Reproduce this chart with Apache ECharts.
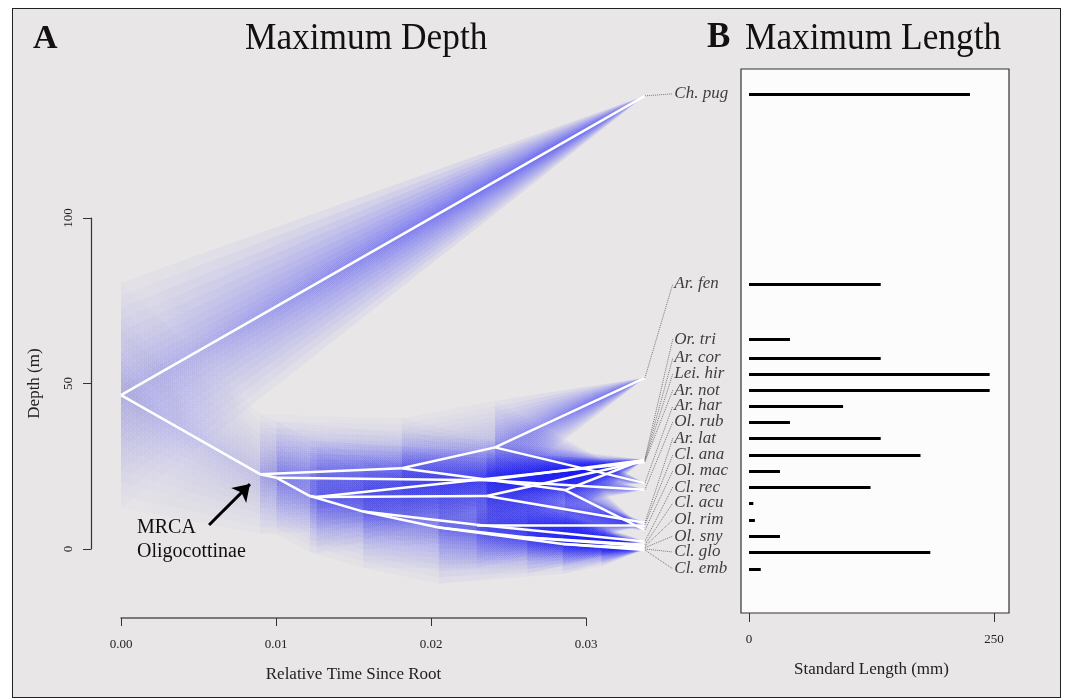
<!DOCTYPE html>
<html>
<head>
<meta charset="utf-8">
<script src="https://cdn.jsdelivr.net/npm/echarts@6/dist/echarts.min.js"></script>
<style>
  html, body { margin: 0; padding: 0; background: #fff; }
  #frame { position: absolute; left: 12px; top: 8px; width: 1047px; height: 688px; background: #e8e6e7; border: 1.5px solid #222; }
  #chart { position: absolute; left: 0; top: 0; width: 1065px; height: 700px; }
</style>
</head>
<body>
<div id="frame"></div>
<div id="chart"></div>
<script>
// tick labels
const timeTicks = [0, 0.01, 0.02, 0.03]
const depthTicks = [0, 50, 100]
const lengthTicks = [0, 250]

// internal nodes of the phenogram (time since root, depth in m, spread of the estimate, parent node)
const nodeTime = [0, 0.00897, 0.01811, 0.02413, 0.02865, 0.01004, 0.02359, 0.01219, 0.01262, 0.02359, 0.01563, 0.02295, 0.0205, 0.0262, 0.0285, 0.031]
const nodeDepth = [46.5, 22.6, 24.4, 30.7, 17.8, 21.5, 20.8, 16.0, 15.7, 16.0, 11.3, 7.3, 6.5, 3.5, 1.5, 0.8]
const nodeSpread = [34, 18, 15, 14, 10, 17, 12, 17, 17, 13, 17, 13, 17, 11, 9, 6]
const nodeParent = [-1, 0, 1, 2, 2, 1, 5, 5, 7, 8, 7, 10, 10, 12, 12, 14]

// tips, sorted by depth
const species = ['Ch. pug', 'Ar. fen', 'Or. tri', 'Ar. cor', 'Lei. hir', 'Ar. not', 'Ar. har', 'Ol. rub', 'Ar. lat',
  'Cl. ana', 'Ol. mac', 'Cl. rec', 'Cl. acu', 'Ol. rim', 'Ol. sny', 'Cl. glo', 'Cl. emb']
const tipDepth = [136.9, 51.7, 27.2, 26.9, 26.6, 26.3, 19.9, 17.9, 7.9, 7.3, 5.7, 2.3, 1.3, 0.8, 0.4, 0.0, -0.3]
const tipParent = [0, 3, 4, 6, 9, 8, 3, 6, 9, 11, 4, 11, 13, 13, 15, 15, 14]
const tipTime = 0.0338
// where each name sits (depth units, spread apart so they do not overlap)
const labelDepth = [137.5, 80.1, 63.4, 57.7, 52.9, 48.0, 43.2, 38.4, 33.5, 28.4, 23.6, 18.7, 13.9, 8.8, 3.9, -0.9, -6.0]
const labelTime = 0.0356
// maximum standard length (mm)
const maxLength = [225.5, 134.4, 41.8, 134.4, 245.6, 245.6, 96, 41.8, 134.4, 175, 31.6, 124, 4.4, 6, 31.6, 185, 12]

// MRCA arrow
const arrowFrom = [0.00568, 7.25]
const arrowTo = [0.00832, 19.6]

const serif = '"Liberation Serif", "DejaVu Serif", serif'

// branches: [t0, d0, s0, t1, d1, s1]
const edges = []
nodeParent.forEach((p, i) => {
  if (p >= 0) edges.push([nodeTime[p], nodeDepth[p], nodeSpread[p], nodeTime[i], nodeDepth[i], nodeSpread[i]])
})
species.forEach((s, i) => {
  const p = tipParent[i]
  edges.push([nodeTime[p], nodeDepth[p], nodeSpread[p], tipTime, tipDepth[i], 0])
})

// the wider the estimate, the paler the blue
function blue(s) {
  return 'rgba(15,15,245,' + (0.085 / (1 + s / 4.5)).toFixed(4) + ')'
}

// uncertainty fan around each branch
function renderFan(params, api) {
  const t0 = api.value(0), d0 = api.value(1), s0 = api.value(2)
  const t1 = api.value(3), d1 = api.value(4), s1 = api.value(5)
  const a = api.coord([t0, d0])
  const b = api.coord([t1, d1])
  const L = 12
  const children = []
  for (let k = L; k >= 1; k--) {
    const f = Math.pow(k / L, 1.4)
    children.push({
      type: 'polygon',
      silent: true,
      shape: {
        points: [
          api.coord([t0, d0 + f * s0]),
          api.coord([t1, d1 + f * s1]),
          api.coord([t1, d1 - f * s1]),
          api.coord([t0, d0 - f * s0]),
        ],
      },
      style: {
        fill: new echarts.graphic.LinearGradient(a[0], a[1], b[0], b[1], [
          { offset: 0, color: blue(s0) },
          { offset: 1, color: blue(s1) },
        ], true),
      },
    })
  }
  return { type: 'group', children: children }
}

const chart = echarts.init(document.getElementById('chart'))

const hidden = { show: false }

function txt(text, size, bold) {
  return { text: text, fontFamily: serif, fontSize: size, fontWeight: bold ? 'bold' : 'normal', fill: '#111' }
}

chart.setOption({
  animation: false,
  grid: [
    // 0: phenogram
    { left: 121, top: 85.6, width: 581.25, height: 529.6 },
    // 1: time axis
    { left: 121, top: 600, width: 465, height: 18 },
    // 2: depth axis
    { left: 91, top: 218, width: 10, height: 331 },
    // 3: length panel
    { left: 741, top: 69, width: 268, height: 544, show: true, backgroundColor: '#fcfcfc', borderColor: '#333', borderWidth: 1.2 },
    // 4: length axis
    { left: 749, top: 590, width: 245, height: 23 },
  ],
  xAxis: [
    { gridIndex: 0, type: 'value', min: 0, max: 0.0375, show: false },
    {
      gridIndex: 1, type: 'value', position: 'bottom',
      min: timeTicks[0], max: timeTicks[timeTicks.length - 1], interval: timeTicks[1] - timeTicks[0],
      axisLine: { show: true, lineStyle: { color: '#555', width: 1.5 } },
      axisTick: { show: true, length: 8, lineStyle: { color: '#333' } },
      axisLabel: { formatter: v => v.toFixed(2), fontFamily: serif, fontSize: 13, color: '#222', margin: 20 },
      splitLine: hidden,
      name: 'Relative Time Since Root', nameLocation: 'middle', nameGap: 48,
      nameTextStyle: { fontFamily: serif, fontSize: 17, color: '#222' },
    },
    { gridIndex: 2, type: 'value', show: false },
    { gridIndex: 3, type: 'value', min: -8.16, max: 265.31, show: false },
    {
      gridIndex: 4, type: 'value', position: 'bottom',
      min: lengthTicks[0], max: lengthTicks[1], interval: lengthTicks[1] - lengthTicks[0],
      axisLine: { show: false },
      axisTick: { show: true, length: 9, lineStyle: { color: '#333' } },
      axisLabel: { fontFamily: serif, fontSize: 13, color: '#222', margin: 20 },
      splitLine: hidden,
      name: 'Standard Length (mm)', nameLocation: 'middle', nameGap: 48,
      nameTextStyle: { fontFamily: serif, fontSize: 17, color: '#222' },
    },
  ],
  yAxis: [
    { gridIndex: 0, type: 'value', min: -20, max: 140, show: false },
    { gridIndex: 1, type: 'value', show: false },
    {
      gridIndex: 2, type: 'value', position: 'left',
      min: depthTicks[0], max: depthTicks[depthTicks.length - 1], interval: depthTicks[1] - depthTicks[0],
      axisLine: { show: true, lineStyle: { color: '#333', width: 1.2 } },
      axisTick: { show: true, length: 8, lineStyle: { color: '#333' } },
      axisLabel: { rotate: 90, fontFamily: serif, fontSize: 13, color: '#222', margin: 16 },
      splitLine: hidden,
      name: 'Depth (m)', nameLocation: 'middle', nameGap: 48, nameRotate: 90,
      nameTextStyle: { fontFamily: serif, fontSize: 17, color: '#222' },
    },
    { gridIndex: 3, type: 'value', min: -19.34, max: 145.02, show: false },
    { gridIndex: 4, type: 'value', show: false },
  ],
  graphic: [
    { type: 'text', x: 33, y: 22, style: txt('A', 34, true) },
    { type: 'text', x: 245, y: 20, scaleX: 0.93, style: txt('Maximum Depth', 38) },
    { type: 'text', x: 707, y: 20, style: txt('B', 35, true) },
    { type: 'text', x: 745, y: 20, scaleX: 0.93, style: txt('Maximum Length', 38) },
    { type: 'text', x: 137, y: 518, style: txt('MRCA', 20) },
    { type: 'text', x: 137, y: 542, style: txt('Oligocottinae', 20) },
  ],
  series: [
    {
      type: 'custom', xAxisIndex: 0, yAxisIndex: 0, silent: true, z: 1,
      renderItem: renderFan,
      encode: { x: [0, 3], y: [1, 4] },
      data: edges,
    },
    {
      type: 'lines', coordinateSystem: 'cartesian2d', xAxisIndex: 0, yAxisIndex: 0, silent: true, z: 3,
      lineStyle: { color: '#fff', width: 2.5, opacity: 1 },
      data: edges.map(e => ({ coords: [[e[0], e[1]], [e[3], e[4]]] })),
    },
    {
      type: 'lines', coordinateSystem: 'cartesian2d', xAxisIndex: 0, yAxisIndex: 0, silent: true, z: 3,
      lineStyle: { color: '#777', width: 1, type: 'dotted', opacity: 1 },
      data: species.map((s, i) => ({ coords: [[tipTime, tipDepth[i]], [labelTime, labelDepth[i]]] })),
    },
    {
      type: 'scatter', xAxisIndex: 0, yAxisIndex: 0, silent: true, z: 4,
      symbolSize: 1, itemStyle: { color: 'rgba(0,0,0,0)' },
      label: {
        show: true, position: 'right', distance: 1,
        formatter: p => p.data[2],
        fontFamily: serif, fontStyle: 'italic', fontSize: 17, color: '#111',
      },
      data: species.map((s, i) => [labelTime, labelDepth[i], s]),
    },
    {
      type: 'lines', coordinateSystem: 'cartesian2d', xAxisIndex: 0, yAxisIndex: 0, silent: true, z: 4,
      symbol: ['none', 'arrow'], symbolSize: 16,
      lineStyle: { color: '#000', width: 3, opacity: 1 },
      itemStyle: { color: '#000' },
      data: [{ coords: [arrowFrom, arrowTo] }],
    },
    {
      type: 'lines', coordinateSystem: 'cartesian2d', xAxisIndex: 3, yAxisIndex: 3, silent: true, z: 3,
      lineStyle: { color: '#000', width: 3, opacity: 1, cap: 'butt' },
      data: species.map((s, i) => ({ coords: [[0, labelDepth[i]], [maxLength[i], labelDepth[i]]] })),
    },
  ],
})
</script>
</body>
</html>
